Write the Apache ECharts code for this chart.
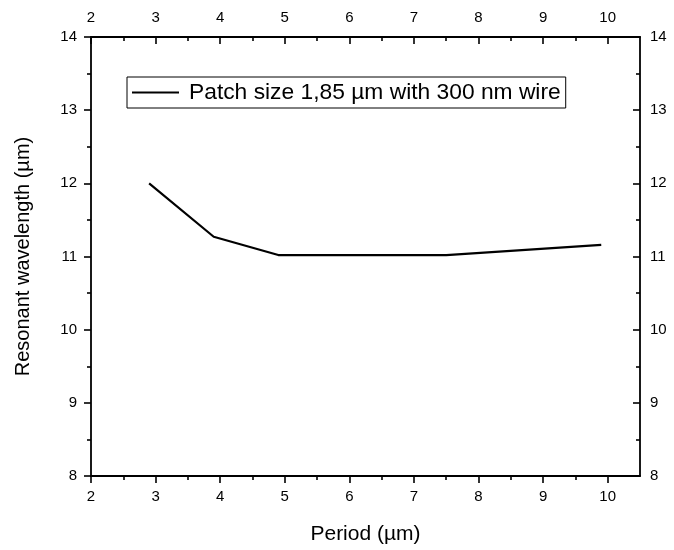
<!DOCTYPE html>
<html>
<head>
<meta charset="utf-8">
<script src="https://cdn.jsdelivr.net/npm/echarts@6/dist/echarts.min.js"></script>
<style>
  html, body { margin: 0; padding: 0; background: #fff; }
  #chart { width: 674px; height: 550px; }
</style>
</head>
<body>
<div id="chart"></div>
<script>
const periods = [2.9, 3.9, 4.9, 7.5, 9.9]
const wavelength = [12.0, 11.27, 11.02, 11.02, 11.16]
const seriesName = 'Patch size 1,85 µm with 300 nm wire'

const xMajor = [2, 3, 4, 5, 6, 7, 8, 9, 10]
const xMinor = [2.5, 3.5, 4.5, 5.5, 6.5, 7.5, 8.5, 9.5]
const yMajor = [8, 9, 10, 11, 12, 13, 14]
const yMinor = [8.5, 9.5, 10.5, 11.5, 12.5, 13.5]

const font = "'Liberation Sans', Arial, sans-serif"
const black = '#000'

// one axis (major or minor ticks) on a given side
function axis(pos, range, ticks, opts) {
  opts = opts || {}
  return {
    type: 'value',
    position: pos,
    min: range[0],
    max: range[1],
    splitLine: {show: false},
    axisLine: {show: !!opts.line, onZero: false, lineStyle: {color: black, width: 1.8}},
    axisTick: {
      show: true,
      customValues: ticks,
      inside: !!opts.inside,
      length: opts.minor ? 4 : 7,
      lineStyle: {color: black, width: 1.6}
    },
    axisLabel: {
      show: !!opts.labels,
      customValues: ticks,
      color: black,
      fontFamily: font,
      fontSize: 15,
      margin: opts.margin || 8
    },
    name: opts.name || '',
    nameLocation: 'middle',
    nameGap: opts.nameGap || 0,
    nameTextStyle: {color: black, fontFamily: font, fontSize: opts.nameSize || 20}
  }
}

const xRange = [2, 10.5]
const yRange = [8, 14]

const chart = echarts.init(document.getElementById('chart'))

chart.setOption({
  animation: false,
  grid: {left: 91, right: 34, top: 37, bottom: 73, containLabel: false},
  legend: {
    left: 127,
    top: 77,
    padding: [2, 5, 2, 5],
    borderColor: black,
    borderWidth: 1,
    icon: 'rect',
    itemWidth: 47,
    itemHeight: 2,
    itemStyle: {color: black},
    textStyle: {color: black, fontFamily: font, fontSize: 22.8, lineHeight: 27, padding: [0, 0, 0, 5]},
    data: [seriesName]
  },
  xAxis: [
    axis('bottom', xRange, xMajor, {line: true, labels: true, margin: 13, name: 'Period (µm)', nameGap: 48, nameSize: 21}),
    axis('bottom', xRange, xMinor, {minor: true}),
    axis('top', xRange, xMajor, {line: true, labels: true, inside: true, margin: 12}),
    axis('top', xRange, xMinor, {minor: true, inside: true})
  ],
  yAxis: [
    axis('left', yRange, yMajor, {line: true, labels: true, margin: 14, name: 'Resonant wavelength (µm)', nameGap: 58, nameSize: 20}),
    axis('left', yRange, yMinor, {minor: true}),
    axis('right', yRange, yMajor, {line: true, labels: true, inside: true, margin: 10}),
    axis('right', yRange, yMinor, {minor: true, inside: true})
  ],
  series: [{
    name: seriesName,
    type: 'line',
    xAxisIndex: 0,
    yAxisIndex: 0,
    symbol: 'none',
    lineStyle: {color: black, width: 2.2},
    itemStyle: {color: black},
    data: periods.map((p, i) => [p, wavelength[i]])
  }]
})
</script>
</body>
</html>
